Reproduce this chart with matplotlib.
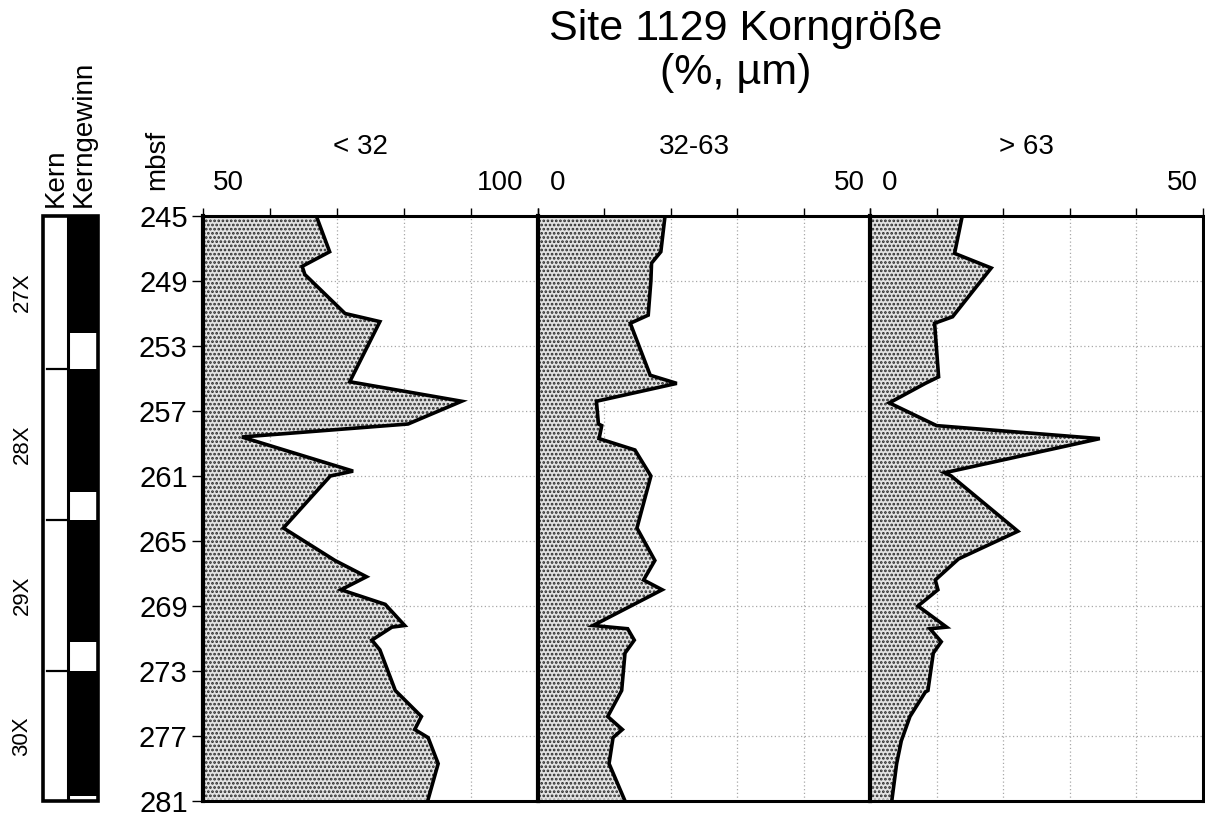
import matplotlib
matplotlib.use('Agg')
import matplotlib.pyplot as plt
from matplotlib.patches import Rectangle
import numpy as np

# ---------------- data ----------------
depth_fine = [245.1, 247.2, 248.1, 248.6, 251.0, 251.5, 255.2, 256.4, 257.8, 258.6,
              260.7, 261.0, 264.2, 266.2, 267.2, 268.0, 268.9, 270.2, 270.3, 271.1,
              271.7, 274.2, 275.8, 276.6, 277.1, 278.7, 280.9]
fine = [67.0, 68.9, 64.8, 65.2, 71.2, 76.4, 71.9, 88.6, 80.6, 55.8,
        72.4, 69.0, 62.0, 69.7, 74.4, 70.6, 77.2, 80.1, 78.2, 75.2,
        76.4, 78.7, 82.6, 81.6, 83.6, 85.1, 83.6]

depth_mid = [245.1, 247.2, 247.9, 249.0, 251.1, 251.6, 254.8, 255.3, 256.4, 257.8,
             257.9, 258.7, 259.4, 261.0, 264.2, 266.2, 267.4, 268.0, 270.2, 270.4,
             271.1, 271.9, 274.2, 275.8, 276.6, 277.1, 278.7, 280.9]
mid = [19.1, 18.5, 17.1, 17.0, 16.6, 13.9, 16.9, 20.9, 8.8, 9.1,
       9.6, 9.2, 14.6, 17.0, 14.9, 17.6, 15.9, 18.7, 8.3, 13.5,
       14.5, 13.1, 12.6, 10.5, 12.7, 11.3, 10.7, 13.0]

depth_coarse = [245.1, 247.3, 248.2, 251.2, 251.6, 254.9, 255.3, 256.5, 257.9, 258.7,
                260.8, 261.0, 264.4, 266.1, 267.4, 268.0, 269.0, 270.3, 270.4, 271.2,
                271.9, 274.2, 274.3, 275.8, 277.3, 278.7, 280.9]
coarse = [13.8, 12.7, 18.2, 12.4, 9.7, 10.3, 8.3, 2.9, 10.0, 34.5,
          11.2, 12.2, 22.2, 13.3, 9.8, 10.2, 7.2, 11.5, 9.0, 10.7,
          9.5, 8.7, 8.3, 6.0, 4.7, 4.0, 3.3]

panel_titles = ['< 32', '32-63', '> 63']
panel_limits = [(50, 100), (0, 50), (0, 50)]
depth_ticks = [245, 249, 253, 257, 261, 265, 269, 273, 277, 281]

cores = ['27X', '28X', '29X', '30X']
core_top = [245.0, 254.4, 263.7, 273.0]
core_bottom = [254.4, 263.7, 273.0, 281.0]
recovered_top = [245.0, 254.4, 263.7, 273.0]
recovered_bottom = [252.2, 262.0, 271.2, 280.7]

title_line1 = 'Site 1129 Korngröße'
title_line2 = '(%, µm)'

# ---------------- figure ----------------
plt.rcParams['font.family'] = ['Liberation Sans', 'DejaVu Sans']
W, H = 1205, 817
fig = plt.figure(figsize=(W / 100, H / 100), dpi=100)
fig.patch.set_facecolor('white')


def fx(px):
    return px / W


def fy(py):
    return 1 - py / H


TOP, BOT = 216, 801
panel_px = [(203, 538), (538, 870), (870, 1203)]
series = [(depth_fine, fine), (depth_mid, mid), (depth_coarse, coarse)]

plt.rcParams['hatch.linewidth'] = 1.3

for i, ((x0, x1), (d, v), (lo, hi), ttl) in enumerate(zip(panel_px, series, panel_limits, panel_titles)):
    ax = fig.add_axes([fx(x0), fy(BOT), (x1 - x0) / W, (BOT - TOP) / H])
    ax.set_xlim(lo, hi)
    ax.set_ylim(281, 245)
    ax.fill_betweenx(d, lo, v, facecolor='#e2e2e2', edgecolor='#2a2a2a',
                     hatch='....', linewidth=0, zorder=2)
    ax.plot(v, d, color='black', lw=2.6, zorder=3, solid_joinstyle='miter')
    ax.set_xticks(np.arange(lo, hi + 1, 10))
    ax.set_yticks(depth_ticks)
    ax.xaxis.tick_top()
    ax.tick_params(axis='x', direction='out', length=6, width=1, labeltop=False,
                   labelbottom=False)
    ax.grid(True, linestyle=(0, (1, 2)), color='#a8a8a8', lw=0.9, zorder=1)
    for s in ax.spines.values():
        s.set_linewidth(2.2)
        s.set_zorder(4)
    ax.spines['left'].set_linewidth(3)
    if i == 0:
        ax.tick_params(axis='y', direction='out', length=8, width=1, pad=3,
                       labelsize=21)
    else:
        ax.tick_params(axis='y', length=0, labelleft=False)
    # min / max labels and header
    ax.text(0.03 if i == 0 else 0.035, 1.035, f'{lo}', transform=ax.transAxes,
            ha='left', va='bottom', fontsize=20)
    ax.text(0.955 if i == 0 else 0.985, 1.035, f'{hi}', transform=ax.transAxes,
            ha='right', va='bottom', fontsize=20)
    ax.text(0.47, 1.095, ttl, transform=ax.transAxes, ha='center', va='bottom',
            fontsize=20)

# ---------------- core column ----------------
cax = fig.add_axes([fx(43), fy(BOT), (98 - 43) / W, (BOT - TOP) / H])
cax.set_xlim(0, 1)
cax.set_ylim(281, 245)
cax.axis('off')
split = 0.46
for t, b in zip(recovered_top, recovered_bottom):
    cax.add_patch(Rectangle((split, t), 1 - split, b - t, facecolor='black',
                            edgecolor='none'))
cax.add_patch(Rectangle((0, 245), 1, 36, facecolor='none', edgecolor='black',
                        lw=2.6, clip_on=False, zorder=5))
cax.plot([split, split], [245, 281], color='black', lw=2.2, zorder=5)
for t in core_top[1:]:
    cax.plot([0.08, split], [t, t], color='black', lw=1.6, zorder=5)
for name, t, b in zip(cores, core_top, core_bottom):
    cax.text(-0.38, (t + b) / 2, name, rotation=90, ha='center', va='center',
             fontsize=16)

fig.text(fx(56), fy(207), 'Kern', rotation=90, ha='center', va='bottom', fontsize=20)
fig.text(fx(84), fy(207), 'Kerngewinn', rotation=90, ha='center', va='bottom', fontsize=20)
fig.text(fx(157), fy(190), 'mbsf', rotation=90, ha='center', va='bottom', fontsize=20)

fig.text(fx(746), fy(40), title_line1, ha='center', va='baseline', fontsize=31)
fig.text(fx(736), fy(84), title_line2, ha='center', va='baseline', fontsize=31)

fig.savefig('out.png', dpi=100, facecolor='white')
